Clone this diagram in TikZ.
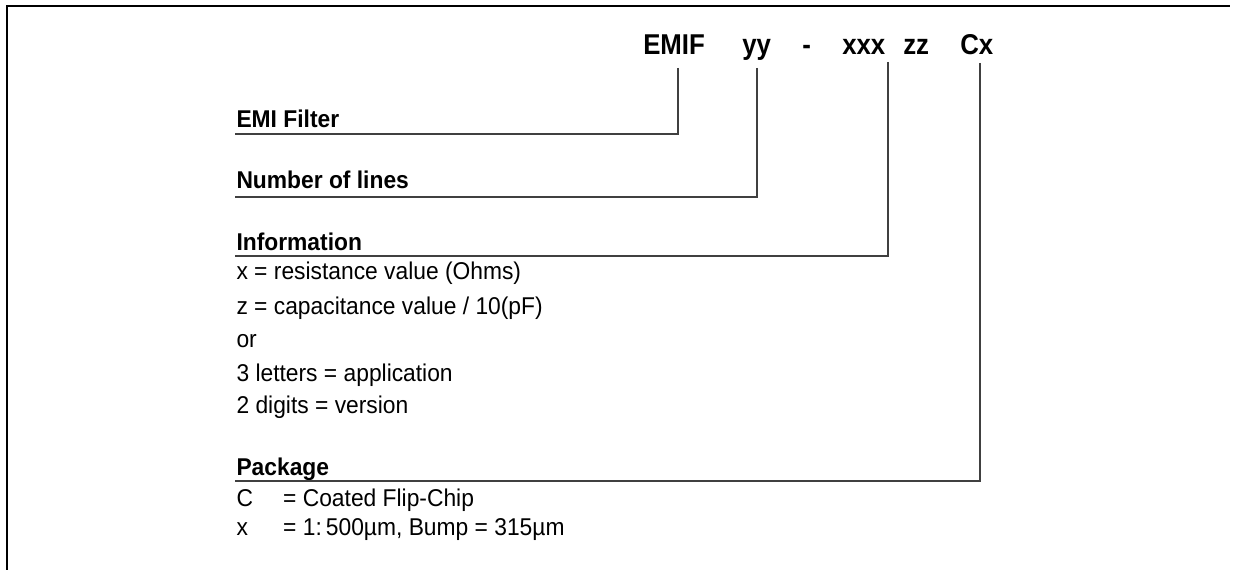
\documentclass[tikz,border=0pt]{standalone}
\usepackage{fontspec}
\setmainfont{Liberation Sans}
\newfontfamily\bodyfont[FakeStretch=0.94]{Liberation Sans}
\newfontfamily\headfont[FakeStretch=0.9]{Liberation Sans}
\usetikzlibrary{calc}

\begin{document}
\begin{tikzpicture}[x=0.75pt,y=0.75pt,yscale=-1,xscale=1,
  every node/.style={inner sep=0.75pt,anchor=base west},
  head/.style={font=\headfont\fontsize{21.5}{24}\selectfont\bfseries},
  lbl/.style={font=\bodyfont\fontsize{18.2}{20}\selectfont\bfseries},
  txt/.style={font=\bodyfont\fontsize{18.2}{20}\selectfont},
  lead/.style={draw=black!75,line width=0.9pt},
  frame/.style={line width=1.5pt}]
\useasboundingbox (0,0) rectangle (1235,570);

%Straight Lines [frame]
\draw [frame] (6.7,570) -- (6.7,5.8) -- (1230,5.8) ;

% Text Node
\node [head] (emif) at (642,55) {EMIF};
% Text Node
\node [head] (yy) at (741,55) {yy};
% Text Node
\node [head] (hyph) at (801,55) {-};
% Text Node
\node [head] (xxx) at (841,55) {xxx};
% Text Node
\node [head] (zz) at (902,55) {zz};
% Text Node
\node [head] (cx) at (959,55) {Cx};

% Text Node
\node [lbl] (filter) at (235.25,128) {EMI Filter};
% Text Node
\node [lbl] (nlines) at (235.25,189) {Number of lines};
% Text Node
\node [lbl] (info) at (235.25,251) {Information};
% Text Node
\node [txt] (info1) at (235.25,280) {x = resistance value (Ohms)};
% Text Node
\node [txt] (info2) at (235.25,315) {z = capacitance value / 10(pF)};
% Text Node
\node [txt] (info3) at (235.25,347) {or};
% Text Node
\node [txt] (info4) at (235.25,381) {3 letters = application};
% Text Node
\node [txt] (info5) at (235.25,413) {2 digits = version};
% Text Node
\node [lbl] (pkg) at (235.25,475) {Package};
% Text Node
\node [txt] (pkg1) at (235.25,506) {\makebox[35pt][l]{C}= Coated Flip-Chip};
% Text Node
\node [txt] (pkg2) at (235.25,535) {\makebox[35pt][l]{x}= 1:\,500µm, Bump = 315µm};

% corners of the leaders
\coordinate (k1) at (678,134);
\coordinate (k2) at (757,197);
\coordinate (k3) at (888,256);
\coordinate (k4) at (980,481);

%Straight Lines [EMIF]
\draw [lead] ($(emif.base -| k1)+(0,13)$) -- (k1) -- (filter.west |- k1) ;
%Straight Lines [yy]
\draw [lead] ($(yy.base -| k2)+(0,13)$) -- (k2) -- (nlines.west |- k2) ;
%Straight Lines [xxx]
\draw [lead] ($(xxx.base -| k3)+(0,7)$) -- (k3) -- (info.west |- k3) ;
%Straight Lines [Cx]
\draw [lead] ($(cx.base -| k4)+(0,8)$) -- (k4) -- (pkg.west |- k4) ;

\end{tikzpicture}
\end{document}
